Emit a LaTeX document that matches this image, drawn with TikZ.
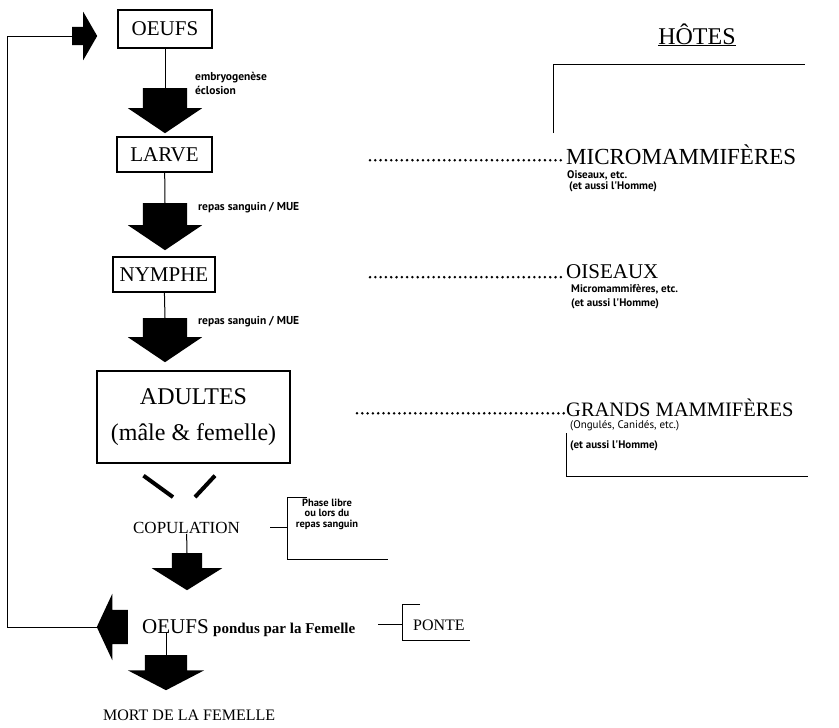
\documentclass[tikz,border=0pt]{standalone}
\usepackage{fontspec}
\setmainfont{Liberation Serif}
\newfontfamily\notefont{PT Sans}
\usetikzlibrary{shapes.arrows,calc}

\tikzset{
  stage/.style={draw=black,line width=1.3pt,inner sep=0pt,font=\fontsize{21}{21}\selectfont},
  bigarrow/.style={single arrow,fill=black,draw=none,inner xsep=0pt,inner ysep=22pt,
    minimum width=0pt,minimum height=45pt,single arrow head extend=15pt,single arrow tip angle=112},
  droparrow/.style={bigarrow,rotate=-90,anchor=tail},
  note/.style={font=\notefont\bfseries\fontsize{11.5}{13}\selectfont,align=left,inner sep=0pt},
  host/.style={inner sep=0pt,anchor=base west},
  stem/.style={line width=1pt},
  fat/.style={line width=4pt},
  leader/.style={line width=2.8pt,line cap=round,dash pattern=on 0pt off 5.3pt},
}

\begin{document}
\begin{tikzpicture}[x=1pt,y=-1pt]
  \useasboundingbox (0,0) rectangle (839,728);

  % stades du cycle
  \node[stage,minimum width=94pt,minimum height=38pt] (eggs) at (165,29) {OEUFS};
  \node[stage,minimum width=95pt,minimum height=35pt] (larva) at (164.5,154.5) {LARVE};
  \node[stage,minimum width=102pt,minimum height=35pt] (nymph) at (164,274.5) {NYMPHE};
  \node[stage,minimum width=193pt,minimum height=92pt,align=center,
    font=\fontsize{24}{36}\selectfont] (adults) at (193.5,417) {ADULTES\\(mâle \& femelle)};
  \node[inner sep=0pt,font=\fontsize{17}{17}\selectfont] (cop) at (186.5,528) {COPULATION};
  \node[host,font=\fontsize{21}{21}\selectfont] (laid) at (142,633) {OEUFS};
  \node[host,font=\bfseries\fontsize{15}{15}\selectfont] (laidtxt) at (213,633) {pondus par la Femelle};
  \node[host,font=\fontsize{16}{16}\selectfont] (death) at (103,720) {MORT DE LA FEMELLE};

  % notes
  \node[note,anchor=north west,font=\notefont\bfseries\fontsize{11.5}{14}\selectfont] (hatch) at (195,72) {embryogenèse\\éclosion};
  \node[note,anchor=north west] (meal1) at (198,202) {repas sanguin / MUE};
  \node[note,anchor=north west] (meal2) at (198,316) {repas sanguin / MUE};
  \node[note,align=center,font=\notefont\bfseries\fontsize{10.5}{10.5}\selectfont] (phase) at (327,514)
    {Phase libre\\ou lors du\\repas sanguin};
  \node[host,font=\fontsize{16}{16}\selectfont] (lay) at (413,630) {PONTE};

  % fleches
  \node[droparrow] (a1) at (165,88) {};
  \node[droparrow,minimum height=47pt] (a2) at (165,203) {};
  \node[droparrow,minimum height=44pt] (a3) at (165,318) {};
  \node[droparrow,inner ysep=15pt,single arrow head extend=20pt,minimum height=37pt,
    single arrow tip angle=116] (a4) at (187,553) {};
  \node[droparrow,inner ysep=21pt,single arrow head extend=17pt,minimum height=35pt,
    single arrow tip angle=125] (a5) at (166,655) {};
  \node[bigarrow,anchor=tail,inner ysep=9pt,single arrow head extend=15pt,minimum height=25pt,
    single arrow tip angle=120] (ret) at (72,36) {};
  \node[bigarrow,rotate=180,anchor=tail,inner ysep=17pt,single arrow head extend=16pt,
    minimum height=31pt,single arrow tip angle=130] (back) at (128,627) {};

  \draw[stem] (eggs) -- (a1.tail);
  \draw[stem] (larva) -- (a2.tail);
  \draw[stem] (nymph) -- (a3.tail);
  \draw[stem] (cop) -- (a4.tail);
  \draw[stem] (a5.tail |- laid.south) -- (a5.tail);

  \coordinate (loop) at (7,0);
  \draw[stem] (back.tip) -- (back.tip -| loop) -- (ret.tail -| loop) -- (ret.tail);

  \draw[fat] ($(adults.south)+(-50,12)$) -- ($(cop.north)+(-13.5,-25)$);
  \draw[fat] ($(adults.south)+(21.5,12)$) -- ($(cop.north)+(8.5,-25)$);

  \draw[stem] (270,527) -- (287,527);
  \draw[stem] (307,497) -| (287,559) -- (388,559);
  \draw[stem] (378,624) -- (402,624);
  \draw[stem] (420,604) -| (402,640) -- (470,640);

  % hotes
  \node[font=\fontsize{24}{24}\selectfont,anchor=base,inner sep=0pt] (hosts) at (697,44) {\underline{HÔTES}};
  \draw[stem] (553,133) |- (805,64);

  \node[host,font=\fontsize{23}{23}\selectfont] (micro) at (566,164) {MICROMAMMIFÈRES};
  \node[note,anchor=north west,font=\notefont\bfseries\fontsize{11}{11}\selectfont] (micronote) at (567,170)
    {Oiseaux, etc.\\\hspace{2pt}(et aussi l'Homme)};
  \node[host,font=\fontsize{21}{21}\selectfont] (birds) at (566,278) {OISEAUX};
  \node[note,anchor=north west,font=\notefont\bfseries\fontsize{11}{14}\selectfont] (birdnote) at (571,284)
    {Micromammifères, etc.\\(et aussi l'Homme)};
  \node[host,font=\fontsize{20.5}{20.5}\selectfont] (large) at (566,416) {GRANDS MAMMIFÈRES};
  \node[note,anchor=north west,font=\notefont\fontsize{11}{11}\selectfont] (largenote) at (570,420)
    {(Ongulés, Canidés, etc.)};
  \node[note,anchor=north west,font=\notefont\bfseries\fontsize{11}{11}\selectfont] (largenote2) at (570,440)
    {(et aussi l'Homme)};
  \draw[stem] (566,433) |- (808,476);

  \coordinate (l1) at (370,0);
  \coordinate (l2) at (370,0);
  \coordinate (l3) at (357,0);
  \draw[leader] ([yshift=-6pt]l1 |- micro.west) -- ([yshift=-6pt]micro.west);
  \draw[leader] ([yshift=-6pt]l2 |- birds.west) -- ([yshift=-6pt]birds.west);
  \draw[leader] ([yshift=-6pt]l3 |- large.west) -- ([yshift=-6pt]large.west);
\end{tikzpicture}
\end{document}
